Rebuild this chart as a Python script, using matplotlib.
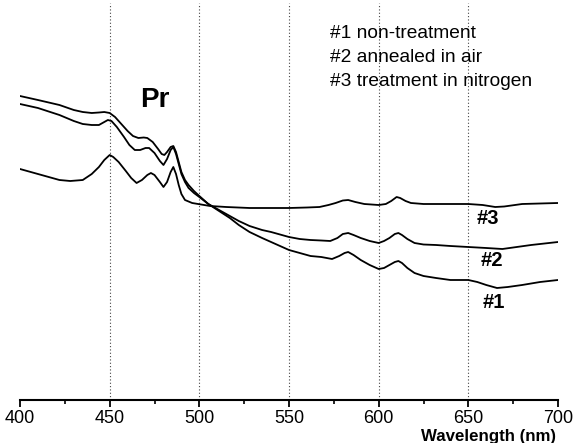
import matplotlib
matplotlib.use('Agg')
import matplotlib.pyplot as plt
from matplotlib.ticker import MultipleLocator

plt.rcParams['font.family'] = ['Liberation Sans', 'DejaVu Sans']

#----Data (arbitrary absorbance units)----#
wl_1 = [400, 410, 422, 430, 435, 440, 444, 447, 450, 453, 456, 460, 463, 466, 469,
        471, 474, 477, 479, 480.5, 482, 484, 485.5, 487, 488.5, 490, 492, 494, 497, 500,
        505, 511, 517, 522, 528, 535, 540, 550, 556, 562, 568, 574, 578, 581, 583,
        586, 590, 595, 600, 603, 606, 609, 611, 613, 616, 620, 625, 632, 640, 650,
        655, 660, 666, 672, 680, 690, 700]
abs_1 = [3.04, 3.00, 2.95, 2.90, 2.88, 2.87, 2.875, 2.88, 2.87, 2.83, 2.77, 2.69, 2.64, 2.62, 2.625,
         2.62, 2.58, 2.51, 2.46, 2.45, 2.48, 2.53, 2.54, 2.48, 2.38, 2.28, 2.20, 2.15, 2.09, 2.04,
         1.96, 1.89, 1.82, 1.75, 1.68, 1.62, 1.58, 1.50, 1.47, 1.44, 1.43, 1.41, 1.44, 1.47, 1.48,
         1.45, 1.40, 1.35, 1.31, 1.32, 1.35, 1.38, 1.39, 1.37, 1.32, 1.27, 1.24, 1.22, 1.20, 1.20,
         1.18, 1.15, 1.12, 1.13, 1.15, 1.18, 1.20]

wl_2 = [400, 410, 422, 430, 435, 440, 444, 447, 449, 451, 454, 458, 461, 464, 467,
        470, 472, 475, 478, 480, 482, 484, 485.5, 487, 488.5, 490, 492, 494, 497, 500,
        505, 511, 517, 522, 528, 535, 540, 550, 556, 562, 568, 573, 577, 580, 583,
        586, 590, 595, 600, 603, 606, 609, 611, 613, 616, 620, 625, 632, 640, 650,
        660, 669, 677, 685, 700]
abs_2 = [2.96, 2.92, 2.85, 2.79, 2.76, 2.75, 2.75, 2.78, 2.80, 2.79, 2.73, 2.63, 2.55, 2.50, 2.50,
         2.52, 2.52, 2.47, 2.39, 2.35, 2.41, 2.50, 2.53, 2.46, 2.36, 2.26, 2.18, 2.12, 2.07, 2.03,
         1.96, 1.90, 1.84, 1.79, 1.74, 1.70, 1.68, 1.63, 1.61, 1.60, 1.595, 1.59, 1.62, 1.66, 1.67,
         1.65, 1.62, 1.59, 1.57, 1.59, 1.62, 1.66, 1.67, 1.65, 1.61, 1.57, 1.555, 1.55, 1.54, 1.53,
         1.52, 1.51, 1.53, 1.55, 1.58]

wl_3 = [400, 410, 416, 422, 428, 435, 440, 444, 447, 450, 452, 455, 459, 462, 465,
        468, 471, 473, 475, 478, 480, 482, 484, 485.5, 487, 488.5, 490, 492, 496, 501,
        506, 515, 528, 540, 550, 560, 567, 572, 576, 580, 583, 587, 592, 600, 604,
        607, 610, 612, 615, 618, 625, 640, 650, 658, 665, 670, 680, 700]
abs_3 = [2.31, 2.26, 2.23, 2.20, 2.19, 2.20, 2.26, 2.33, 2.40, 2.45, 2.43, 2.38, 2.29, 2.22, 2.17,
         2.20, 2.25, 2.27, 2.25, 2.18, 2.13, 2.18, 2.28, 2.33, 2.26, 2.15, 2.06, 2.00, 1.97, 1.955,
         1.94, 1.93, 1.92, 1.92, 1.92, 1.925, 1.93, 1.95, 1.97, 1.995, 2.00, 1.98, 1.96, 1.95, 1.96,
         1.99, 2.03, 2.02, 1.99, 1.97, 1.96, 1.96, 1.96, 1.95, 1.93, 1.935, 1.96, 1.97]

legend_lines = ["#1 non-treatment", "#2 annealed in air", "#3 treatment in nitrogen"]
grid_x = [450, 500, 550, 600, 650]

#----Figure----#
fig = plt.figure(figsize=(5.73, 4.43), dpi=100)
ax = fig.add_axes([20 / 573, 43 / 443, 538 / 573, 397 / 443])

for x in grid_x:
    ax.axvline(x, color='#444444', linestyle=(0, (1, 2)), linewidth=0.8, zorder=0)

ax.plot(wl_1, abs_1, color='black', linewidth=1.3)
ax.plot(wl_2, abs_2, color='black', linewidth=1.3)
ax.plot(wl_3, abs_3, color='black', linewidth=1.3)

ax.set_xlim(400, 700)
ax.set_ylim(0, 3.97)

for side in ['top', 'right', 'left']:
    ax.spines[side].set_visible(False)
ax.spines['bottom'].set_linewidth(1.5)
ax.set_yticks([])
ax.xaxis.set_major_locator(MultipleLocator(50))
ax.xaxis.set_minor_locator(MultipleLocator(25))
ax.tick_params(axis='x', which='major', length=5, width=1.3, labelsize=13, pad=2)
ax.tick_params(axis='x', which='minor', length=3, width=1.2)

ax.text(475.3, 3.0, "Pr", fontsize=20, fontweight='bold', ha='center', va='center')
for i, line in enumerate(legend_lines):
    ax.text(572.9, 3.67 - i * 0.245, line, fontsize=13.8, ha='left', va='center')

ax.text(661, 1.82, "#3", fontsize=14.5, fontweight='bold', ha='center', va='center')
ax.text(663, 1.39, "#2", fontsize=14.5, fontweight='bold', ha='center', va='center')
ax.text(664, 0.97, "#1", fontsize=14.5, fontweight='bold', ha='center', va='center')

fig.text(556 / 573, 7 / 443, "Wavelength (nm)", fontsize=12.2, fontweight='bold',
         ha='right', va='center')

fig.savefig('out.png', dpi=100)
